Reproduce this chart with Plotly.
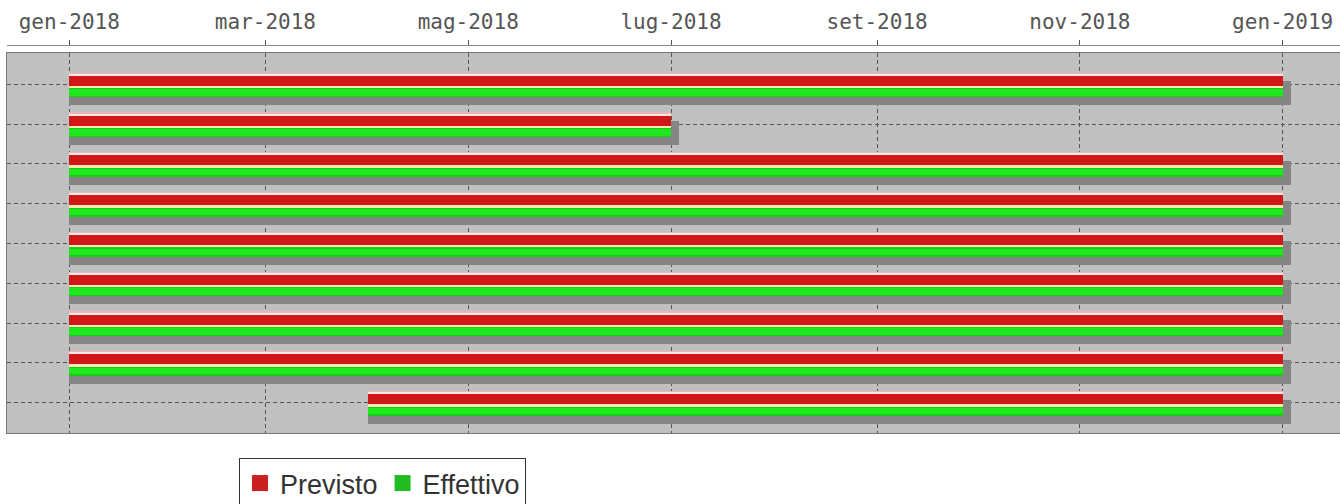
import plotly.graph_objects as go
import pandas as pd

# ---- data ----
tasks = [0, 1, 2, 3, 4, 5, 6, 7, 8]
previsto_start = ["2018-01-01"] * 8 + ["2018-04-01"]
previsto_end = ["2019-01-01", "2018-07-01", "2019-01-01", "2019-01-01", "2019-01-01",
                "2019-01-01", "2019-01-01", "2019-01-01", "2019-01-01"]
effettivo_start = ["2018-01-01"] * 8 + ["2018-04-01"]
effettivo_end = ["2019-01-01", "2018-07-01", "2019-01-01", "2019-01-01", "2019-01-01",
                 "2019-01-01", "2019-01-01", "2019-01-01", "2019-01-01"]
tick_dates = ["2018-01-01", "2018-03-01", "2018-05-01", "2018-07-01",
              "2018-09-01", "2018-11-01", "2019-01-01"]
tick_labels = ["gen-2018", "mar-2018", "mag-2018", "lug-2018",
               "set-2018", "nov-2018", "gen-2019"]
series_names = ["Previsto", "Effettivo"]

# ---- styling ----
RED = "#d01818"
GREEN = "#1ee81e"
PX_PER_DAY = 3.3244
SHADOW_MS = 8 / PX_PER_DAY * 86400000  # shadow extends ~8px right
X_RANGE = ["2017-12-13 06:14", "2019-01-18 05:45"]


def dur_ms(starts, ends):
    return [(pd.Timestamp(e) - pd.Timestamp(s)).total_seconds() * 1000 for s, e in zip(starts, ends)]


p_dur = dur_ms(previsto_start, previsto_end)
e_dur = dur_ms(effettivo_start, effettivo_end)

fig = go.Figure()

# y units: 39.8 px per category
def u(px):
    return px / 39.8

common = dict(orientation="h", showlegend=False, hoverinfo="skip", marker_line_width=0)

# shadow
fig.add_trace(go.Bar(y=tasks, x=[d + SHADOW_MS for d in e_dur], base=effettivo_start,
                     offset=u(-3), width=u(24), marker_color="#858585", **common))
# red main
fig.add_trace(go.Bar(y=tasks, x=p_dur, base=previsto_start,
                     offset=u(-11), width=u(13.5), marker_color=RED, **common))
# pink highlight on red top
fig.add_trace(go.Bar(y=tasks, x=p_dur, base=previsto_start,
                     offset=u(-11.2), width=u(1.2), marker_color="#f2b4b4", **common))
fig.add_trace(go.Bar(y=tasks, x=p_dur, base=previsto_start,
                     offset=u(-10.0), width=u(1.0), marker_color="#fbe6e6", **common))
# cream line between
fig.add_trace(go.Bar(y=tasks, x=p_dur, base=previsto_start,
                     offset=u(2.0), width=u(1.8), marker_color="#f6ecb0", **common))
# green main
fig.add_trace(go.Bar(y=tasks, x=e_dur, base=effettivo_start,
                     offset=u(3.8), width=u(9.2), marker_color="#18cc18", **common))
fig.add_trace(go.Bar(y=tasks, x=e_dur, base=effettivo_start,
                     offset=u(5.0), width=u(6.5), marker_color=GREEN, **common))

# legend entries
for name, col in zip(series_names, ["#cc2020", "#22bb22"]):
    fig.add_trace(go.Scatter(x=[None], y=[None], mode="markers", name=name,
                             marker=dict(symbol="square", size=16, color=col),
                             xaxis="x2", showlegend=True))

W, H = 1340, 504
LEFT = 7
top_axis = 45
plot_top = 53
plot_bottom = 433
paper_h = plot_bottom - top_axis

fig.update_layout(
    width=W, height=H,
    margin=dict(l=LEFT, r=0, t=top_axis, b=H - plot_bottom, pad=0, autoexpand=False),
    paper_bgcolor="white",
    plot_bgcolor="#c0c0c0",
    barmode="overlay",
    bargap=0,
    xaxis=dict(
        type="date",
        range=X_RANGE,
        tickvals=tick_dates,
        showticklabels=False,
        showgrid=True, gridcolor="#555555", griddash="4px,3px", gridwidth=1,
        showline=True, linecolor="#777777", linewidth=1, mirror=True,
        zeroline=False, ticks="",
        domain=[0, 1],
    ),
    xaxis2=dict(
        type="date",
        overlaying="x",
        side="top",
        anchor="free",
        position=1,
        range=X_RANGE,
        tickvals=tick_dates,
        ticktext=tick_labels,
        showgrid=False,
        showline=True, linecolor="#888888", linewidth=1,
        ticks="outside", ticklen=5, tickcolor="#555555",
        tickfont=dict(family="DejaVu Sans Mono", size=21, color="#555555"),
        ticklabelstandoff=3,
        zeroline=False,
    ),
    yaxis=dict(
        range=[u(433 - 84.3), u(53 - 84.3)],
        domain=[0, (plot_bottom - plot_top) / paper_h],
        tickvals=tasks,
        showticklabels=False,
        showgrid=True, gridcolor="#555555", griddash="4px,3px", gridwidth=1,
        showline=True, linecolor="#777777", linewidth=1, mirror=True,
        zeroline=False, ticks="",
    ),
    legend=dict(
        orientation="h",
        x=(239 - LEFT) / (W - LEFT), xanchor="left",
        y=(plot_bottom - 458) / paper_h, yanchor="top",
        bgcolor="white", bordercolor="#333333", borderwidth=1,
        font=dict(family="Liberation Sans, Arial, sans-serif", size=27, color="#333333"),
        itemsizing="trace",
        tracegroupgap=0,
    ),
    showlegend=True,
    hovermode=False,
)

fig.write_html("out.html",
               config={"displayModeBar": False},
               post_script="document.body.style.margin='0px';document.body.style.overflow='hidden';")
